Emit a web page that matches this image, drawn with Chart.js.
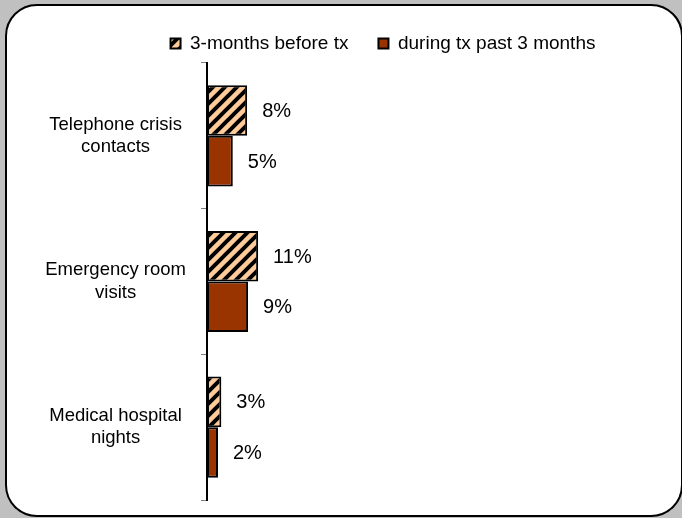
<!DOCTYPE html>
<html>
<head>
<meta charset="utf-8">
<script src="https://cdn.jsdelivr.net/npm/chart.js@4/dist/chart.umd.min.js"></script>
<style>
  html, body { margin: 0; padding: 0; background: #c0c0c0; overflow: hidden; }
  body { width: 682px; height: 518px; position: relative; }
  .frame {
    position: absolute; left: 5px; top: 4px; width: 678px; height: 513px;
    box-sizing: border-box; border: 2px solid #000; border-radius: 32px; background: #fff;
  }
  .wrap { position: absolute; left: 0; top: 0; width: 766px; height: 518px; }
</style>
</head>
<body>
<div class="frame"></div>
<div class="wrap"><canvas id="chart" width="766" height="518"></canvas></div>
<script>
// categories (multi-line labels)
const categories = [
  ['Telephone crisis', 'contacts'],
  ['Emergency room', 'visits'],
  ['Medical hospital', 'nights']
];
const seriesNames = ['3-months before tx', 'during tx past 3 months'];
// percent of clients
const beforeTx = [8.4, 10.7, 3.0];
const duringTx = [5.4, 8.6, 2.3];

// peach with black "/" stripes
function makeHatch() {
  const c = document.createElement('canvas');
  c.width = 12; c.height = 12;
  const g = c.getContext('2d');
  g.fillStyle = '#ffcc99';
  g.fillRect(0, 0, 12, 12);
  g.strokeStyle = '#000';
  g.lineWidth = 4;
  g.beginPath();
  g.moveTo(-6, 6); g.lineTo(6, -6);
  g.moveTo(0, 12); g.lineTo(12, 0);
  g.moveTo(6, 18); g.lineTo(18, 6);
  g.stroke();
  return g.createPattern(c, 'repeat');
}

// value labels to the right of each bar
const valueLabels = {
  id: 'valueLabels',
  afterDatasetsDraw(chart) {
    const ctx = chart.ctx;
    ctx.save();
    ctx.font = '20px "Liberation Sans", Arial, sans-serif';
    ctx.fillStyle = '#000';
    ctx.textAlign = 'left';
    ctx.textBaseline = 'middle';
    chart.data.datasets.forEach((ds, i) => {
      chart.getDatasetMeta(i).data.forEach((bar, j) => {
        ctx.fillText(Math.round(ds.data[j]) + '%', bar.x + 15, bar.y + 1);
      });
    });
    ctx.restore();
  }
};

new Chart(document.getElementById('chart'), {
  type: 'bar',
  data: {
    labels: categories,
    datasets: [
      {
        label: seriesNames[0],
        data: beforeTx,
        backgroundColor: makeHatch(),
        borderColor: '#000',
        borderWidth: 2,
        borderSkipped: false
      },
      {
        label: seriesNames[1],
        data: duringTx,
        backgroundColor: '#993300',
        borderColor: '#000',
        borderWidth: 2,
        borderSkipped: false
      }
    ]
  },
  options: {
    indexAxis: 'y',
    responsive: false,
    animation: false,
    datasets: { bar: { categoryPercentage: 0.695, barPercentage: 1.0 } },
    layout: { padding: { top: 4, bottom: 18, left: 0, right: 0 } },
    scales: {
      x: { display: false, min: 0, max: 117 },
      y: {
        afterFit(axis) {
          axis.width = 207;
          axis.paddingTop = 0;
          axis.paddingBottom = 0;
        },
        grid: { drawOnChartArea: false, drawTicks: true, tickLength: 6, color: '#808080' },
        border: { color: '#000', width: 2 },
        ticks: {
          color: '#000',
          crossAlign: 'center',
          padding: 15,
          font: { family: '"Liberation Sans", Arial, sans-serif', size: 18.5, lineHeight: 1.2 }
        }
      }
    },
    plugins: {
      tooltip: { enabled: false },
      legend: {
        position: 'top',
        labels: {
          color: '#000',
          boxWidth: 10,
          boxHeight: 10,
          padding: 30,
          font: { family: '"Liberation Sans", Arial, sans-serif', size: 19 }
        }
      }
    }
  },
  plugins: [valueLabels]
});
</script>
</body>
</html>
